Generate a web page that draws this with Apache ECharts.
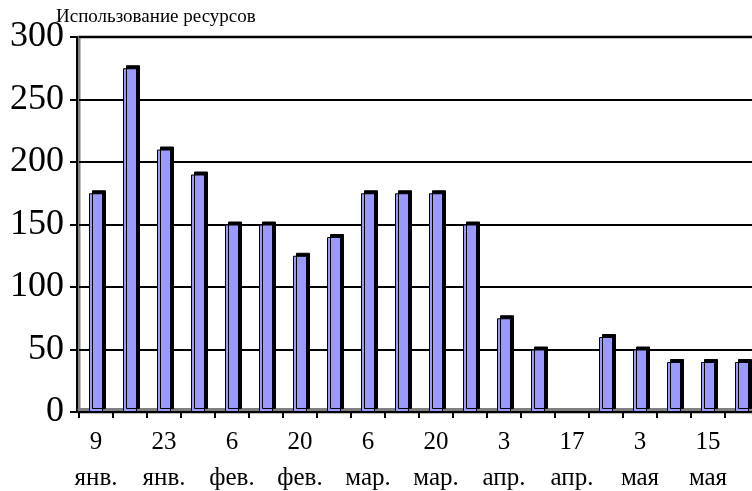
<!DOCTYPE html>
<html><head><meta charset="utf-8">
<script src="https://cdn.jsdelivr.net/npm/echarts@6/dist/echarts.min.js"></script>
<style>html,body{margin:0;padding:0;background:#fff}#c{width:752px;height:491px}</style>
</head><body><div id="c"></div>
<script>
const titleText = 'Использование ресурсов';
const categories = ['9\nянв.','16\nянв.','23\nянв.','30\nянв.','6\nфев.','13\nфев.','20\nфев.','27\nфев.','6\nмар.','13\nмар.','20\nмар.','27\nмар.','3\nапр.','10\nапр.','17\nапр.','24\nапр.','3\nмая','9\nмая','15\nмая','22\nмая'];
const usage = [175,275,210,190,150,150,125,140,175,175,175,150,75,50,0,60,50,40,40,40];
const yTicks = {min:0, max:300, interval:50};

const chart = echarts.init(document.getElementById('c'), null, {renderer:'canvas'});
const font = '"Liberation Serif", "Times New Roman", serif';
const barItem = {color:'#9999FF', borderColor:'#000', borderWidth:1,
  shadowColor:'#000', shadowOffsetX:3, shadowOffsetY:-3, shadowBlur:0};
const barData = usage.map(v => v === 0
  ? {value:v, itemStyle:{borderWidth:0, shadowColor:'rgba(0,0,0,0)'}}
  : {value:v});
chart.setOption({
  animation:false,
  title:{text:titleText, left:51, top:3, textStyle:{fontFamily:font, fontSize:19, fontWeight:'normal', color:'#000'}},
  grid:{left:79, top:37, width:680, height:375, containLabel:false, outerBoundsMode:'none',
    show:true, borderColor:'#808080', borderWidth:3},
  xAxis:[{
    type:'category', data:categories, boundaryGap:true,
    axisLine:{show:true, lineStyle:{color:'#000', width:2}},
    axisTick:{show:true, interval:0, length:6, lineStyle:{color:'#000', width:2}},
    axisLabel:{interval:1, margin:12, fontFamily:font, fontSize:25, lineHeight:36, color:'#000'}
  },{
    type:'category', data:categories, position:'bottom', offset:-3,
    axisLine:{show:true, lineStyle:{color:'#808080', width:3}},
    axisTick:{show:false}, axisLabel:{show:false}
  }],
  yAxis:{
    type:'value', min:yTicks.min, max:yTicks.max, interval:yTicks.interval, offset:2,
    axisLine:{show:true, lineStyle:{color:'#000', width:2}},
    axisTick:{show:true, length:7, lineStyle:{color:'#000', width:2}},
    axisLabel:{margin:13, padding:[6,0,0,0], fontFamily:font, fontSize:36, color:'#000'},
    splitLine:{show:true, lineStyle:{color:'#000', width:2}}
  },
  series:[{
    type:'bar', data:barData, barWidth:14, xAxisIndex:0,
    itemStyle:barItem
  }]
});
</script></body></html>
